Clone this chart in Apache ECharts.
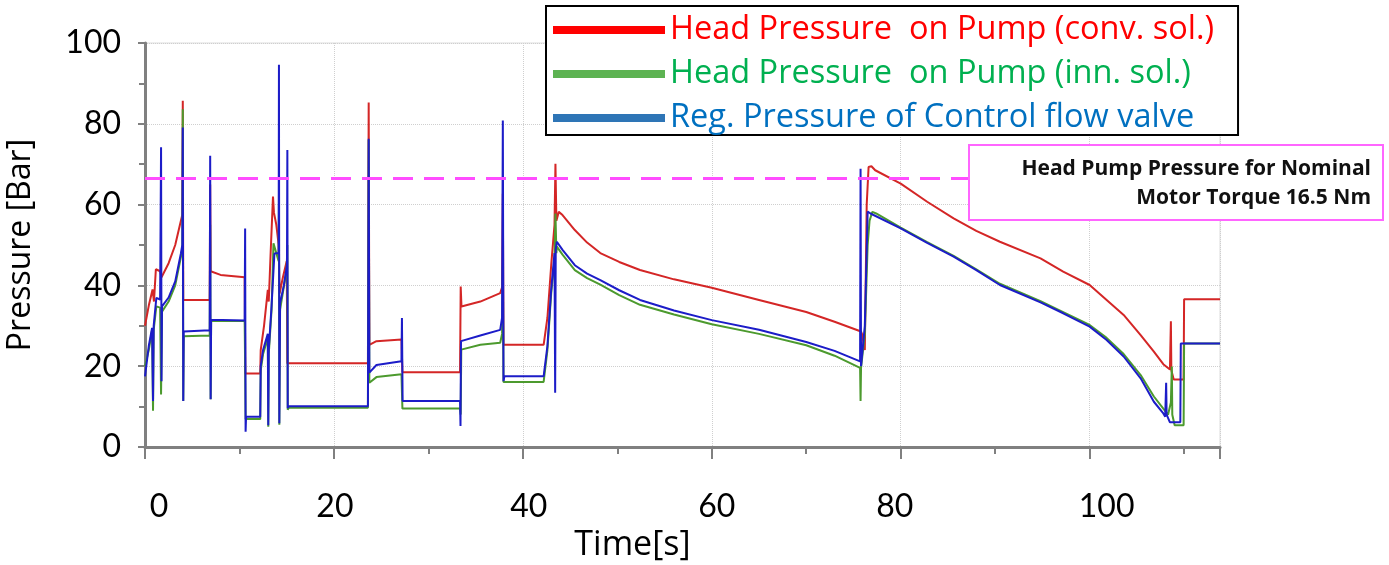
<!DOCTYPE html>
<html><head><meta charset="utf-8">
<script src="https://cdn.jsdelivr.net/npm/echarts@6/dist/echarts.min.js"></script>
<style>html,body{margin:0;padding:0;background:#fff;overflow:hidden}#c{width:1389px;height:565px}</style>
</head><body><div id="c"></div>
<script>
const seriesNames = ['Head Pressure  on Pump (conv. sol.)', 'Head Pressure  on Pump (inn. sol.)', 'Reg. Pressure of Control flow valve'];
const xTicks = [0, 20, 40, 60, 80, 100];
const yTicks = [0, 20, 40, 60, 80, 100];
const nominalPressure = 66.5;
const noteLines = ['Head Pump Pressure for Nominal', 'Motor Torque 16.5 Nm'];

const convSol = [[0,30],[0.4,35],[0.8,39],[0.95,36],[1.15,44],[1.6,43.5],[1.75,42],[2.5,45.5],[3.2,50],[3.7,55],[3.95,57.5],[4.0,85.7],[4.05,36.4],[6.85,36.4],[6.9,65],[6.95,43.5],[8.0,42.6],[10.55,42],[10.62,18.2],[12.2,18.2],[12.25,24],[12.6,30],[13.0,38.9],[13.1,36],[13.3,48],[13.55,62],[13.65,58],[13.9,55],[14.15,50],[14.25,38],[14.6,42],[15.0,46],[15.07,20.7],[23.6,20.7],[23.68,85.3],[23.75,25.3],[24.5,26.2],[27.15,26.6],[27.25,18.5],[33.35,18.5],[33.42,39.7],[33.5,34.8],[35.5,36],[37.6,38.1],[37.8,39.5],[37.88,62.7],[37.95,25.3],[42.2,25.3],[42.6,32],[43.0,45],[43.35,55],[43.45,70.1],[43.55,56],[43.8,58.2],[44.2,57.4],[45.5,53.7],[46.8,50.6],[48.2,48],[50.2,45.8],[52.4,43.8],[56,41.5],[60,39.4],[65,36.4],[70,33.4],[73,31],[75.8,28.6],[75.9,28],[76.2,24],[76.4,60],[76.6,69.3],[76.9,69.5],[77.3,68.5],[80,65.2],[82.8,60.7],[85.6,56.6],[88,53.5],[90.5,50.8],[94.8,46.7],[97.2,43.4],[100,40.1],[101.8,36.4],[103.6,32.7],[105.4,27.7],[106.8,23.6],[107.8,20.5],[108.5,19.2],[108.6,31.1],[108.65,19],[108.9,16.7],[109.95,16.7],[110.0,36.6],[113.8,36.6]];

const innSol = [[0,20],[0.4,24],[0.75,29],[0.85,9],[0.92,29],[1.2,34.8],[1.6,34.5],[1.7,13],[1.8,33.5],[2.5,36],[3.2,40],[3.8,47],[3.95,49],[4.0,83.6],[4.05,11.4],[4.1,27.4],[6.85,27.6],[6.9,55],[6.95,11.8],[7.0,31.2],[10.55,31.2],[10.6,20],[10.65,6.9],[12.2,6.9],[12.25,19],[12.5,23],[13.0,27],[13.05,5],[13.1,23],[13.4,34],[13.6,50.4],[14.15,46],[14.18,60],[14.22,5.5],[14.3,34],[15.0,44],[15.07,50],[15.11,9.2],[15.2,9.7],[23.6,9.7],[23.68,76],[23.75,15.9],[24.5,17.3],[27.15,18],[27.25,9.5],[33.35,9.5],[33.42,8],[33.48,24.1],[35.5,25.3],[37.6,25.8],[37.8,28],[37.88,45],[37.95,16.1],[42.2,16.1],[42.6,24],[43.0,38],[43.35,46],[43.45,57.8],[43.55,48],[43.6,49.6],[44.2,47.6],[45.5,43.8],[46.8,41.8],[48.2,40.2],[50.2,37.6],[52.4,35.2],[56,32.8],[60,30.4],[65,28],[70,25.2],[73,22.6],[75.7,19.6],[75.75,11.4],[75.8,19.6],[76.2,28],[76.5,50],[76.7,56],[77.0,58.2],[77.4,57.8],[80,54.3],[82.8,50.7],[85.6,47.3],[88,44],[90.5,40.4],[94.8,36.1],[97.2,33.4],[100,30.2],[101.8,27],[103.6,23],[105.4,17.8],[106.8,12.5],[107.8,9.5],[108.3,8],[108.6,11],[108.7,19.9],[108.75,8],[109.0,5.4],[109.95,5.4],[110.0,25.6],[113.8,25.6]];

const regValve = [[0,17.5],[0.4,25],[0.75,29.5],[0.85,11.4],[0.92,30],[1.2,36.9],[1.6,36.5],[1.7,74.2],[1.75,16.3],[1.8,34.8],[2.5,37],[3.2,41],[3.8,47.9],[3.95,50],[4.0,79.1],[4.05,11.4],[4.1,28.6],[6.85,28.9],[6.9,72.1],[6.95,11.8],[7.0,31.5],[10.55,31.3],[10.6,54.1],[10.65,3.8],[10.7,7.5],[12.2,7.5],[12.25,20],[12.5,24],[13.0,28],[13.05,5.4],[13.1,24],[13.4,35],[13.7,47.9],[14.15,48],[14.18,94.6],[14.22,5.9],[14.3,35.6],[14.7,40],[15.03,45],[15.07,73.5],[15.11,9.6],[15.2,10.1],[23.6,10.1],[23.68,76.3],[23.75,18.4],[24.5,20.3],[27.15,21.2],[27.2,31.9],[27.27,11.4],[33.35,11.4],[33.4,5.2],[33.45,26.2],[35.5,27.6],[37.6,29],[37.8,32],[37.88,80.8],[37.95,16.3],[38.05,17.5],[42.2,17.5],[42.6,25],[43.0,39],[43.35,48],[43.42,13.4],[43.48,49],[43.6,50.8],[44.2,48.8],[45.5,45],[46.8,42.9],[48.2,41.3],[50.2,38.8],[52.4,36.4],[56,33.8],[60,31.4],[65,29],[70,26],[73,23.8],[75.7,21.2],[75.75,68.9],[75.8,20],[76.2,30],[76.5,58.3],[76.8,57.8],[80,54.1],[82.8,50.5],[85.6,47.1],[88,43.8],[90.5,40.1],[94.8,35.8],[97.2,33.1],[100,29.8],[101.8,26.5],[103.6,22.4],[105.4,17],[106.8,11.2],[107.8,8.3],[108.0,7.5],[108.1,15.9],[108.15,8],[108.5,6.1],[109.6,6.1],[109.65,25.6],[113.8,25.6]];

const FONT = 'Lato, "Open Sans", sans-serif';
const WIDE = '"Open Sans", Lato, sans-serif';
const chart = echarts.init(document.getElementById('c'), null, {renderer: 'canvas', width: 1389, height: 565});
const lineColors = ['#d42626', '#4c9a2e', '#1c1cc8'];
const legendColors = ['#ff0000', '#5db352', '#2e75b6'];
const legendTextColors = ['#ff0000', '#00b050', '#0070c0'];
const datasets = [convSol, innSol, regValve];
// small horizontal label nudges (px) as placed in the original figure
const xLabelShift = {0: 14, 20: 1, 40: 6, 60: 5, 80: -6, 100: 17};
const xRich = {};
Object.keys(xLabelShift).forEach(k => {
  const s = xLabelShift[k];
  xRich['p' + k] = {fontSize: 32, fontFamily: FONT, color: '#000',
    padding: s >= 0 ? [0, 0, 0, 2 * s] : [0, -2 * s, 0, 0]};
});

chart.setOption({
  animation: false,
  backgroundColor: '#fff',
  grid: {left: 145, right: 169, top: 43, bottom: 118, show: true, borderColor: '#dcdcdc', borderWidth: 1,
    containLabel: false, outerBoundsMode: 'none'},
  legend: {
    orient: 'vertical', left: 546, top: 6,
    itemWidth: 112, itemHeight: 8, itemGap: 10,
    padding: [7, 24, 0, 7],
    borderColor: '#000', borderWidth: 2, backgroundColor: '#fff',
    textStyle: {fontSize: 32.5, fontFamily: WIDE, lineHeight: 34},
    data: seriesNames.map((n, i) => ({name: n, icon: 'rect', itemStyle: {color: legendColors[i]}, textStyle: {color: legendTextColors[i]}}))
  },
  xAxis: {
    type: 'value', min: 0, max: 113.8, interval: 20,
    name: 'Time[s]', nameLocation: 'middle', nameGap: 61,
    nameTextStyle: {fontSize: 34, fontFamily: WIDE, color: '#000', padding: [0, 100, 0, 0]},
    axisLine: {lineStyle: {color: '#808080', width: 3}},
    axisTick: {length: 12, lineStyle: {color: '#808080', width: 2}},
    minorTick: {show: true, splitNumber: 2, length: 7, lineStyle: {color: '#808080', width: 2}},
    axisLabel: {fontSize: 32, fontFamily: FONT, color: '#000', margin: 44, rich: xRich,
      formatter: v => xTicks.includes(v) ? '{p' + v + '|' + v + '}' : ''},
    splitLine: {show: true, lineStyle: {color: '#cfcfcf', type: 'dotted', width: 1}}
  },
  yAxis: {
    type: 'value', min: 0, max: 100, interval: 20,
    name: 'Pressure [Bar]', nameLocation: 'middle', nameGap: 108, nameRotate: 90,
    nameTextStyle: {fontSize: 32, fontFamily: WIDE, color: '#000'},
    axisLine: {show: true, lineStyle: {color: '#808080', width: 3}},
    axisTick: {show: true, length: 7, lineStyle: {color: '#808080', width: 2}},
    minorTick: {show: true, splitNumber: 2, length: 6, lineStyle: {color: '#808080', width: 2}},
    axisLabel: {fontSize: 32, fontFamily: FONT, color: '#000', margin: 24,
      formatter: v => yTicks.includes(v) ? String(v) : ''},
    splitLine: {show: true, lineStyle: {color: '#cfcfcf', type: 'dotted', width: 1}}
  },
  series: datasets.map((d, i) => ({
    name: seriesNames[i], type: 'line', data: d, showSymbol: false, symbol: 'none',
    lineStyle: {color: lineColors[i], width: 2}, itemStyle: {color: lineColors[i]},
    z: 2 + i,
    markLine: i === 0 ? {
      silent: true, symbol: ['none', 'none'], label: {show: false},
      lineStyle: {color: '#ff4dff', width: 3, type: [20, 11]},
      data: [{yAxis: nominalPressure}]
    } : undefined
  })),
  graphic: [
    {type: 'rect', z: 100, zlevel: 1, shape: {x: 969, y: 145, width: 414, height: 75}, style: {fill: '#fff', stroke: '#ff66ff', lineWidth: 2}},
    {type: 'text', z: 101, zlevel: 1, style: {x: 1371, y: 169, text: noteLines[0], font: 'bold 21px ' + WIDE, fill: '#111', align: 'right', verticalAlign: 'middle'}},
    {type: 'text', z: 101, zlevel: 1, style: {x: 1371, y: 198, text: noteLines[1], font: 'bold 21px ' + WIDE, fill: '#111', align: 'right', verticalAlign: 'middle'}}
  ]
});
</script>
</body></html>
